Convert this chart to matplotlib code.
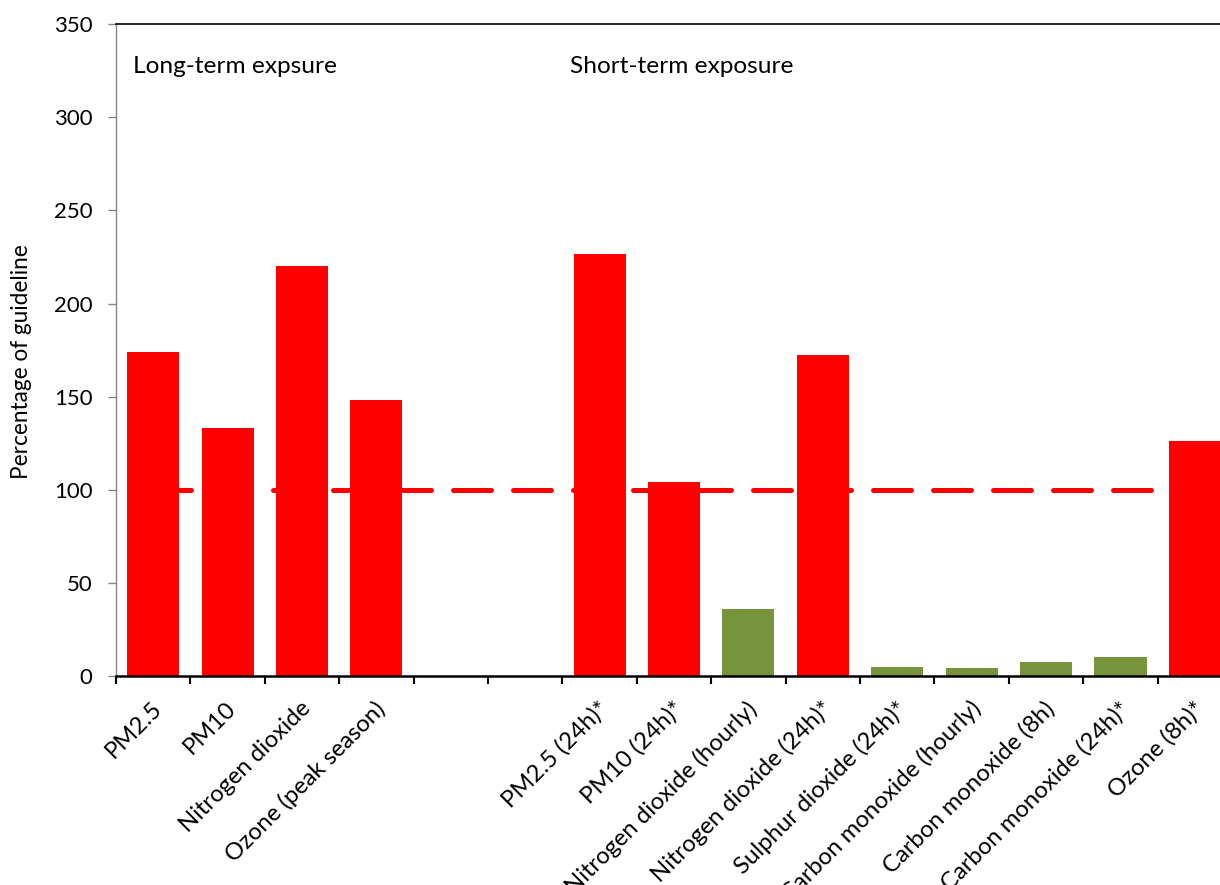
import numpy as np
import matplotlib
matplotlib.use("Agg")
import matplotlib.pyplot as plt

# Pollutant concentrations as a percentage of the guideline value
categories = [
    "PM2.5", "PM10", "Nitrogen dioxide", "Ozone (peak season)", "", "",
    "PM2.5 (24h)*", "PM10 (24h)*", "Nitrogen dioxide (hourly)",
    "Nitrogen dioxide (24h)*", "Sulphur dioxide (24h)*",
    "Carbon monoxide (hourly)", "Carbon monoxide (8h)",
    "Carbon monoxide (24h)*", "Ozone (8h)*",
]
values = [174.1, 133.3, 220.2, 148.3, None, None,
          226.6, 104.3, 36.2, 172.5, 4.9, 4.7, 7.6, 10.6, 126.3]
guideline = 100
yticks = [0, 50, 100, 150, 200, 250, 300, 350]

RED = "#FF0000"
GREEN = "#77933C"

plt.rcParams["font.family"] = ["Lato", "DejaVu Sans"]

fig = plt.figure(figsize=(12.2, 8.85), dpi=100)
ax = fig.add_axes([0.0951, 0.2356, 0.9148, 0.7373])

x = np.arange(len(categories))
heights = [v if v is not None else 0 for v in values]
colors = [RED if (v is not None and v > guideline) else GREEN for v in values]

# guideline drawn first so the bars sit on top of it
ax.plot([x[0], x[-1]], [guideline, guideline], color=RED, lw=3.6,
        dashes=(7.6, 4.4), dash_capstyle="round", zorder=1)
ax.bar(x, heights, width=0.7, color=colors, zorder=2)

ax.set_xlim(-0.5, len(categories) - 0.5)
ax.set_ylim(0, 350)
ax.set_yticks(yticks)
ax.set_yticklabels([str(t) for t in yticks], fontsize=16)

# category boundaries carry the ticks, labels sit under the bar centres
ax.set_xticks(np.arange(len(categories) + 1) - 0.5)
ax.set_xticklabels([])
for xi, lab in zip(x, categories):
    ax.annotate(lab, xy=(xi, 0), xycoords=("data", "axes fraction"),
                xytext=(-1.5, -15), textcoords="offset points",
                rotation=45, ha="right", va="top", rotation_mode="anchor",
                fontsize=17.2)

ax.set_ylabel("Percentage of guideline", fontsize=16.3)
ax.yaxis.set_label_coords(-0.075, 0.482)

ax.text(-0.27, 327, "Long-term expsure", fontsize=17.6, va="center")
ax.text(5.6, 327, "Short-term exposure", fontsize=17.6, va="center")

ax.spines["left"].set_color("#868686")
ax.spines["left"].set_linewidth(1.0)
ax.spines["top"].set_color("black")
ax.spines["top"].set_linewidth(1.2)
ax.spines["bottom"].set_color("black")
ax.spines["bottom"].set_linewidth(1.8)
ax.spines["right"].set_visible(False)
ax.tick_params(axis="y", direction="out", length=5.8, width=1.0, color="#868686", pad=11)
ax.tick_params(axis="x", direction="out", length=5.5, width=1.5, color="black")

fig.savefig("out.png", dpi=100)
